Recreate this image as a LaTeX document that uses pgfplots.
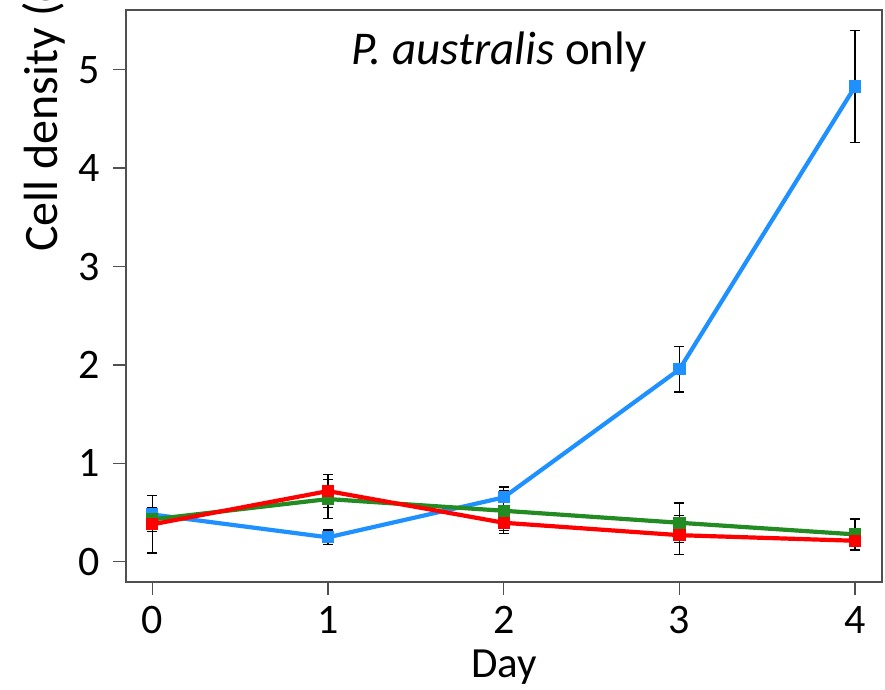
\documentclass[border=0pt]{standalone}
\usepackage{pgfplots}
\pgfplotsset{compat=1.18}
\usepackage{fontspec}
\setmainfont{Carlito}
\definecolor{cblue}{RGB}{30,144,255}
\definecolor{cgreen}{RGB}{34,139,34}
\definecolor{cred}{RGB}{255,0,0}
\definecolor{framec}{RGB}{80,80,80}
\pgfplotstableread{
x y ey
0 0.48 0.05
1 0.248 0.075
2 0.654 0.105
3 1.955 0.23
4 4.83 0.57
}\blue
\pgfplotstableread{
x y ey
0 0.43 0.12
1 0.637 0.2
2 0.518 0.2
3 0.396 0.2
4 0.278 0.155
}\green
\pgfplotstableread{
x y ey
0 0.38 0.29
1 0.718 0.165
2 0.396 0.11
3 0.27 0.2
4 0.213 0.1
}\red
\begin{document}
\begin{tikzpicture}
\begin{axis}[
 at={(0,0)}, anchor=south west,
 scale only axis, width=756pt, height=572pt,
 xmin=-0.15, xmax=4.153, ymin=-0.206, ymax=5.607,
 xtick={0,...,4}, ytick={0,...,5},
 tick align=outside, major tick length=13pt,
 xtick pos=bottom, ytick pos=left,
 axis line style={framec, line width=1.8pt},
 tick style={framec, line width=1.5pt},
 /pgf/number format/assume math mode=true,
 tick label style={font=\fontsize{42}{50}\selectfont, inner sep=0pt},
 xticklabel style={anchor=base, yshift=-38pt},
 yticklabel style={anchor=east, xshift=-13pt},
 xlabel={Day},
 xlabel style={at={(axis description cs:0.5,0)}, anchor=base, yshift=-95pt, font=\fontsize{43}{50}\selectfont},
 clip=false,
]
\addplot[cblue, line width=4.2pt, mark=square*, mark size=4pt] table[x=x,y=y] {\blue};
\addplot[cgreen, line width=4.2pt, mark=square*, mark size=4pt] table[x=x,y=y] {\green};
\addplot[cred, line width=4.2pt, mark=square*, mark size=4pt] table[x=x,y=y] {\red};
\addplot[draw=none, mark=none, forget plot, error bars/.cd, y dir=both, y explicit, error mark options={draw=black, line width=1.3pt, mark size=5pt, rotate=90}, error bar style={draw=black, line width=1.3pt}] table[x=x,y=y,y error=ey] {\blue};
\addplot[draw=none, mark=none, forget plot, error bars/.cd, y dir=both, y explicit, error mark options={draw=black, line width=1.3pt, mark size=5pt, rotate=90}, error bar style={draw=black, line width=1.3pt}] table[x=x,y=y,y error=ey] {\green};
\addplot[draw=none, mark=none, forget plot, error bars/.cd, y dir=both, y explicit, error mark options={draw=black, line width=1.3pt, mark size=5pt, rotate=90}, error bar style={draw=black, line width=1.3pt}] table[x=x,y=y,y error=ey] {\red};
\end{axis}
\node[anchor=base, font=\fontsize{47}{55}\selectfont, inner sep=0pt] at (373pt,517pt) {\textit{P. australis} only};
\node[anchor=base west, rotate=90, font=\fontsize{48}{55}\selectfont, inner sep=0pt] at (-69pt,330pt) {Cell density (cells mL$^{-1}$)};
\pgfresetboundingbox
\path[use as bounding box] (-126pt,-107pt) rectangle (759pt,582pt);
\end{tikzpicture}
\end{document}
